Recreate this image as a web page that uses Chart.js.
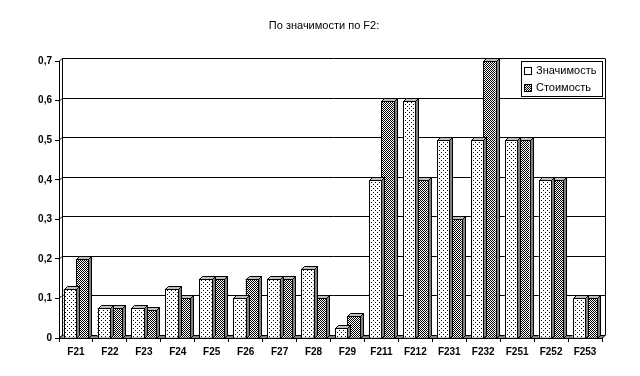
<!DOCTYPE html>
<html>
<head>
<meta charset="utf-8">
<script src="https://cdn.jsdelivr.net/npm/chart.js@4"></script>
<style>
  html, body { margin: 0; padding: 0; background: #fff; }
</style>
</head>
<body>
<canvas id="grafico" width="640" height="376"></canvas>
<script>
const categorias = ["F21", "F22", "F23", "F24", "F25", "F26", "F27", "F28", "F29",
  "F211", "F212", "F231", "F232", "F251", "F252", "F253"];
const znachimost = [0.125, 0.075, 0.075, 0.125, 0.15, 0.1, 0.15, 0.175, 0.025,
  0.4, 0.6, 0.5, 0.5, 0.5, 0.4, 0.1];
const stoimost = [0.2, 0.075, 0.07, 0.1, 0.15, 0.15, 0.15, 0.1, 0.055,
  0.6, 0.4, 0.3, 0.7, 0.5, 0.4, 0.1];
const ticksY = [0, 0.1, 0.2, 0.3, 0.4, 0.5, 0.6, 0.7];

const FUENTE = "Arial, 'Liberation Sans', sans-serif";
const D = 3; // profundidad 3D

// Patrones de relleno
function patronPuntos() {
  const c = document.createElement("canvas");
  c.width = 4; c.height = 4;
  const g = c.getContext("2d");
  g.fillStyle = "#fff";
  g.fillRect(0, 0, 4, 4);
  g.fillStyle = "#000";
  g.fillRect(1, 0, 1, 1);
  g.fillRect(3, 2, 1, 1);
  return g.createPattern(c, "repeat");
}
function patronCuadros() {
  const c = document.createElement("canvas");
  c.width = 2; c.height = 2;
  const g = c.getContext("2d");
  g.fillStyle = "#fff";
  g.fillRect(0, 0, 2, 2);
  g.fillStyle = "#000";
  g.fillRect(0, 0, 1, 1);
  g.fillRect(1, 1, 1, 1);
  return g.createPattern(c, "repeat");
}
const pPuntos = patronPuntos();
const pCuadros = patronCuadros();

// Pared de fondo, rejilla, suelo, caras 3D y leyenda
const fondo3D = {
  id: "fondo3D",
  beforeDatasetsDraw(chart) {
    const { ctx, chartArea: a, scales: { y } } = chart;
    ctx.save();
    ctx.strokeStyle = "#000";
    ctx.lineWidth = 1;
    ticksY.forEach(t => {
      const py = Math.round(y.getPixelForValue(t)) - D + 0.5;
      ctx.beginPath();
      ctx.moveTo(a.left, py + D);
      ctx.lineTo(a.left + D, py);
      ctx.lineTo(a.right + D, py);
      ctx.stroke();
    });
    const top = Math.round(y.getPixelForValue(0.7)) - D + 0.5;
    const bot = Math.round(y.getPixelForValue(0)) + 0.5;
    ctx.beginPath();
    ctx.moveTo(a.left + D + 0.5, top);
    ctx.lineTo(a.left + D + 0.5, bot - D);
    ctx.moveTo(a.right + D + 0.5, top);
    ctx.lineTo(a.right + D + 0.5, bot - D);
    ctx.stroke();
    // suelo
    ctx.fillStyle = "#808080";
    ctx.beginPath();
    ctx.moveTo(a.left, bot);
    ctx.lineTo(a.left + D, bot - D);
    ctx.lineTo(a.right + D, bot - D);
    ctx.lineTo(a.right, bot);
    ctx.closePath();
    ctx.fill();
    ctx.stroke();
    ctx.restore();
  },
  afterDatasetDraw(chart, args) {
    const { ctx } = chart;
    ctx.save();
    ctx.strokeStyle = "#000";
    ctx.lineWidth = 1;
    args.meta.data.forEach(bar => {
      const { x, y, base, width } = bar.getProps(["x", "y", "base", "width"], true);
      const l = Math.round(x - width / 2) + 0.5;
      const r = Math.round(x + width / 2) + 0.5;
      const t = Math.round(y) + 0.5;
      const b = Math.round(base) + 0.5;
      // cara superior
      ctx.fillStyle = "#c0c0c0";
      ctx.beginPath();
      ctx.moveTo(l, t);
      ctx.lineTo(l + D, t - D);
      ctx.lineTo(r + D, t - D);
      ctx.lineTo(r, t);
      ctx.closePath();
      ctx.fill();
      ctx.stroke();
      // cara lateral
      ctx.fillStyle = "#808080";
      ctx.beginPath();
      ctx.moveTo(r, t);
      ctx.lineTo(r + D, t - D);
      ctx.lineTo(r + D, b - D);
      ctx.lineTo(r, b);
      ctx.closePath();
      ctx.fill();
      ctx.stroke();
      // frente
      ctx.strokeRect(l, t, r - l, b - t);
    });
    ctx.restore();
  },
  afterDraw(chart) {
    const { ctx } = chart;
    ctx.save();
    ctx.fillStyle = "#fff";
    ctx.fillRect(521, 61, 82, 36);
    ctx.strokeStyle = "#000";
    ctx.lineWidth = 1;
    ctx.strokeRect(521.5, 61.5, 81, 35);
    const items = [["Значимость", "#fff"], ["Стоимость", pCuadros]];
    items.forEach(([txt, fill], i) => {
      const cy = 71 + i * 17;
      ctx.fillStyle = fill;
      ctx.fillRect(525, cy - 3, 6, 6);
      ctx.strokeRect(524.5, cy - 3.5, 7, 7);
      ctx.fillStyle = "#000";
      ctx.font = "11px " + FUENTE;
      ctx.textBaseline = "middle";
      ctx.fillText(txt, 536, cy);
    });
    ctx.restore();
  }
};

new Chart(document.getElementById("grafico"), {
  type: "bar",
  data: {
    labels: categorias,
    datasets: [
      {
        label: "Значимость",
        data: znachimost,
        backgroundColor: pPuntos,
        borderWidth: 0
      },
      {
        label: "Стоимость",
        data: stoimost,
        backgroundColor: pCuadros,
        borderWidth: 0
      }
    ]
  },
  plugins: [fondo3D],
  options: {
    responsive: false,
    animation: false,
    devicePixelRatio: 1,
    layout: { padding: { left: 8, right: 0, top: 0, bottom: 0 } },
    datasets: { bar: { categoryPercentage: 0.73, barPercentage: 1.0 } },
    plugins: {
      legend: { display: false },
      tooltip: { enabled: false },
      title: {
        display: true,
        text: "По значимости по F2:",
        color: "#000",
        font: { family: FUENTE, size: 11, weight: "normal" },
        padding: { top: 19, bottom: 29 }
      }
    },
    scales: {
      x: {
        afterFit(s) { s.height = 376 - 338; },
        grid: {
          display: true,
          drawOnChartArea: false,
          drawTicks: true,
          tickLength: 4,
          color: "#000",
          offset: true
        },
        border: { display: true, color: "#000" },
        ticks: {
          color: "#000",
          padding: 4,
          maxRotation: 0,
          autoSkip: false,
          font: { family: FUENTE, size: 10, weight: "bold" }
        }
      },
      y: {
        min: 0,
        max: 0.7,
        afterFit(s) { s.width = 51; },
        afterBuildTicks(s) { s.ticks = ticksY.map(v => ({ value: v })); },
        grid: {
          display: true,
          drawOnChartArea: false,
          drawTicks: true,
          tickLength: 4,
          color: "#000"
        },
        border: { display: true, color: "#000" },
        ticks: {
          color: "#000",
          padding: 3,
          font: { family: FUENTE, size: 10, weight: "bold" },
          callback: v => v === 0 ? "0" : v.toFixed(1).replace(".", ",")
        }
      },
      // eje vacío a la derecha, solo reserva espacio
      yRight: {
        position: "right",
        display: true,
        min: 0,
        max: 0.7,
        afterFit(s) { s.width = 38; },
        grid: { display: false },
        border: { display: false },
        ticks: { display: false }
      }
    }
  }
});
</script>
</body>
</html>
